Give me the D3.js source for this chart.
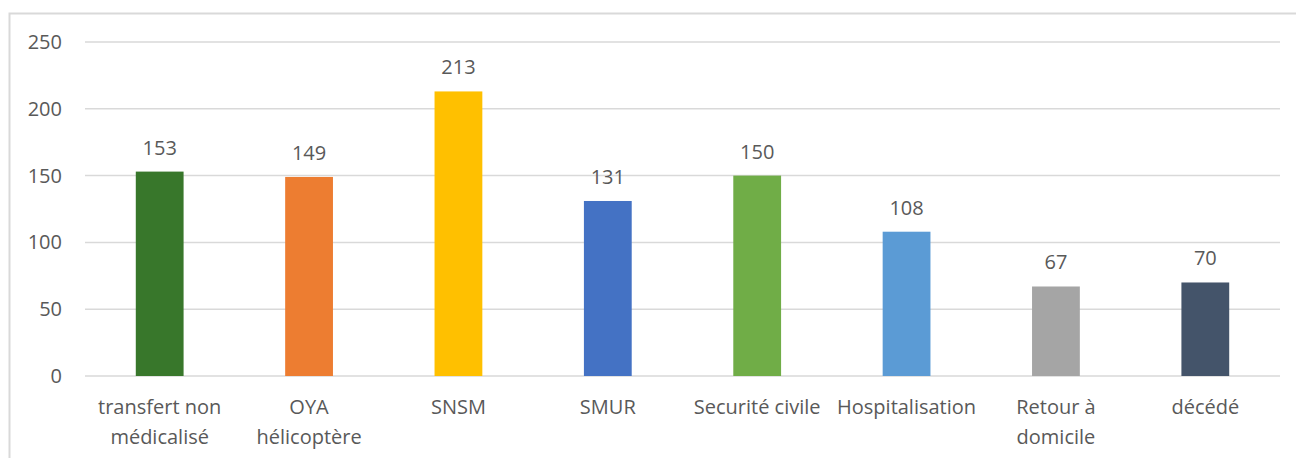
<!DOCTYPE html>
<html>
<head>
<meta charset="utf-8">
<script src="https://cdn.jsdelivr.net/npm/d3@7"></script>
<style>
  html, body { margin: 0; padding: 0; background: #fff; }
  svg { display: block; }
</style>
</head>
<body>
<svg id="chart" width="1296" height="458"></svg>
<script>
// Categories, values and bar colours
const categories = [
  ["transfert non", "médicalisé"],
  ["OYA", "hélicoptère"],
  ["SNSM"],
  ["SMUR"],
  ["Securité civile"],
  ["Hospitalisation"],
  ["Retour à", "domicile"],
  ["décédé"]
];
const values = [153, 149, 213, 131, 150, 108, 67, 70];
const colors = ["#38772B", "#ED7D31", "#FFC000", "#4472C4", "#70AD47", "#5B9BD5", "#A5A5A5", "#44546A"];
const yTicks = [0, 50, 100, 150, 200, 250];

const W = 1296, H = 458;
const margin = { left: 85, right: 16, top: 42, bottom: 82 };
const font = "'Open Sans', sans-serif";
const fontSize = 20;
const textColor = "#595959";

const svg = d3.select("#chart");

// Outer chart frame
svg.append("rect")
  .attr("x", 9.5).attr("y", 13.5)
  .attr("width", W).attr("height", H)
  .attr("fill", "none").attr("stroke", "#d9d9d9").attr("stroke-width", 2);

const keys = categories.map((c, i) => i);
const x = d3.scaleBand().domain(keys).range([margin.left, W - margin.right]).paddingInner(0.68).paddingOuter(0.34);
const y = d3.scaleLinear().domain([0, 250]).range([H - margin.bottom, margin.top]);

// Horizontal gridlines
svg.append("g").selectAll("line").data(yTicks).join("line")
  .attr("x1", margin.left).attr("x2", W - margin.right)
  .attr("y1", d => y(d)).attr("y2", d => y(d))
  .attr("stroke", "#d9d9d9").attr("stroke-width", 1.5);

// Y axis labels
svg.append("g").selectAll("text").data(yTicks).join("text")
  .attr("x", 62).attr("y", d => y(d)).attr("dy", "0.35em")
  .attr("text-anchor", "end")
  .attr("font-family", font).attr("font-size", fontSize).attr("fill", textColor)
  .text(d => d);

// Bars
svg.append("g").selectAll("rect").data(values).join("rect")
  .attr("x", (d, i) => x(i)).attr("width", x.bandwidth())
  .attr("y", d => y(d)).attr("height", d => y(0) - y(d))
  .attr("fill", (d, i) => colors[i]);

// Value labels above bars
svg.append("g").selectAll("text").data(values).join("text")
  .attr("x", (d, i) => x(i) + x.bandwidth() / 2)
  .attr("y", d => y(d) - 17)
  .attr("text-anchor", "middle")
  .attr("font-family", font).attr("font-size", fontSize).attr("fill", textColor)
  .text(d => d);

// Category labels (one or two lines)
const cat = svg.append("g").selectAll("text").data(categories).join("text")
  .attr("x", (d, i) => x(i) + x.bandwidth() / 2)
  .attr("y", 414)
  .attr("text-anchor", "middle")
  .attr("font-family", font).attr("font-size", fontSize).attr("fill", textColor);
cat.selectAll("tspan").data(d => d).join("tspan")
  .attr("x", function () { return d3.select(this.parentNode).attr("x"); })
  .attr("dy", (d, j) => j === 0 ? 0 : 30)
  .text(d => d);
</script>
</body>
</html>
